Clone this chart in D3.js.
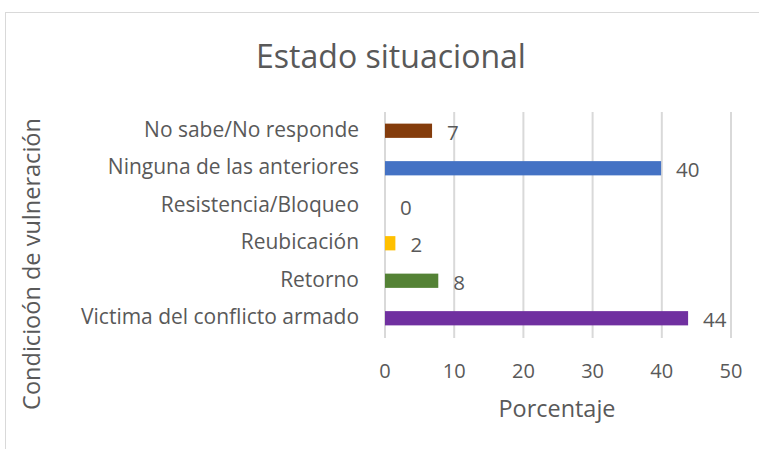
<!DOCTYPE html>
<html><head><meta charset="utf-8">
<script src="https://cdn.jsdelivr.net/npm/d3@7"></script>
<style>body{margin:0;background:#fff}text{font-family:"Open Sans",sans-serif;fill:#595959}</style>
</head><body><svg id="c" width="759" height="449"></svg>
<script>
const categories = ["No sabe/No responde","Ninguna de las anteriores","Resistencia/Bloqueo","Reubicación","Retorno","Victima del conflicto armado"];
const values = [6.8, 39.9, 0, 1.5, 7.7, 43.8];
const colors = ["#843C0C","#4472C4","#A5A5A5","#FFC000","#548235","#7030A0"];
const xTicks = [0,10,20,30,40,50];
const title = "Estado situacional";
const xTitle = "Porcentaje";
const yTitle = "Condicioón de vulneración";

const svg = d3.select("#c");
svg.append("rect").attr("x",5.5).attr("y",12.5).attr("width",800).attr("height",500)
  .attr("fill","#fff").attr("stroke","#d9d9d9");
const x = d3.scaleLinear().domain([0,50]).range([385,731]);
const y = d3.scaleBand().domain(categories).range([112,337]).paddingInner(0.62).paddingOuter(0.31);

svg.append("g").selectAll("line").data(xTicks).join("line")
  .attr("x1",d=>x(d)).attr("x2",d=>x(d)).attr("y1",112).attr("y2",338)
  .attr("stroke","#d9d9d9").attr("stroke-width",2);

svg.append("g").selectAll("rect").data(categories).join("rect")
  .attr("x",x(0)).attr("y",d=>y(d)).attr("height",y.bandwidth())
  .attr("width",(d,i)=>x(values[i])-x(0)).attr("fill",(d,i)=>colors[i]);

function fit(sel, target){ const w = sel.node().getComputedTextLength(); const fs = +sel.attr("font-size"); sel.attr("font-size", fs*target/w); }

const fmt = d3.format(".0f");
svg.append("g").selectAll("text").data(categories).join("text")
  .attr("x",(d,i)=>x(values[i])+15).attr("y",d=>y(d)+y.bandwidth()/2+9)
  .attr("font-size",20.5).text((d,i)=>fmt(values[i]));

const cl = svg.append("g").selectAll("text").data(categories).join("text")
  .attr("x",359).attr("y",d=>y(d)+y.bandwidth()/2+6).attr("text-anchor","end")
  .attr("font-size",18).text(d=>d);
const longest = cl.filter((d,i)=>i===5);
const w0 = longest.node().getComputedTextLength();
cl.attr("font-size",18*278/w0);

svg.append("g").selectAll("text").data(xTicks).join("text")
  .attr("x",d=>x(d)).attr("y",378).attr("text-anchor","middle")
  .attr("font-size",20).text(d=>d);

fit(svg.append("text").attr("x",391).attr("y",68).attr("text-anchor","middle").attr("font-size",28).text(title), 270);
fit(svg.append("text").attr("x",557).attr("y",417).attr("text-anchor","middle").attr("font-size",20).text(xTitle), 117);
fit(svg.append("text").attr("transform","translate(40,264) rotate(-90)").attr("text-anchor","middle").attr("font-size",20).text(yTitle), 292);
</script></body></html>
